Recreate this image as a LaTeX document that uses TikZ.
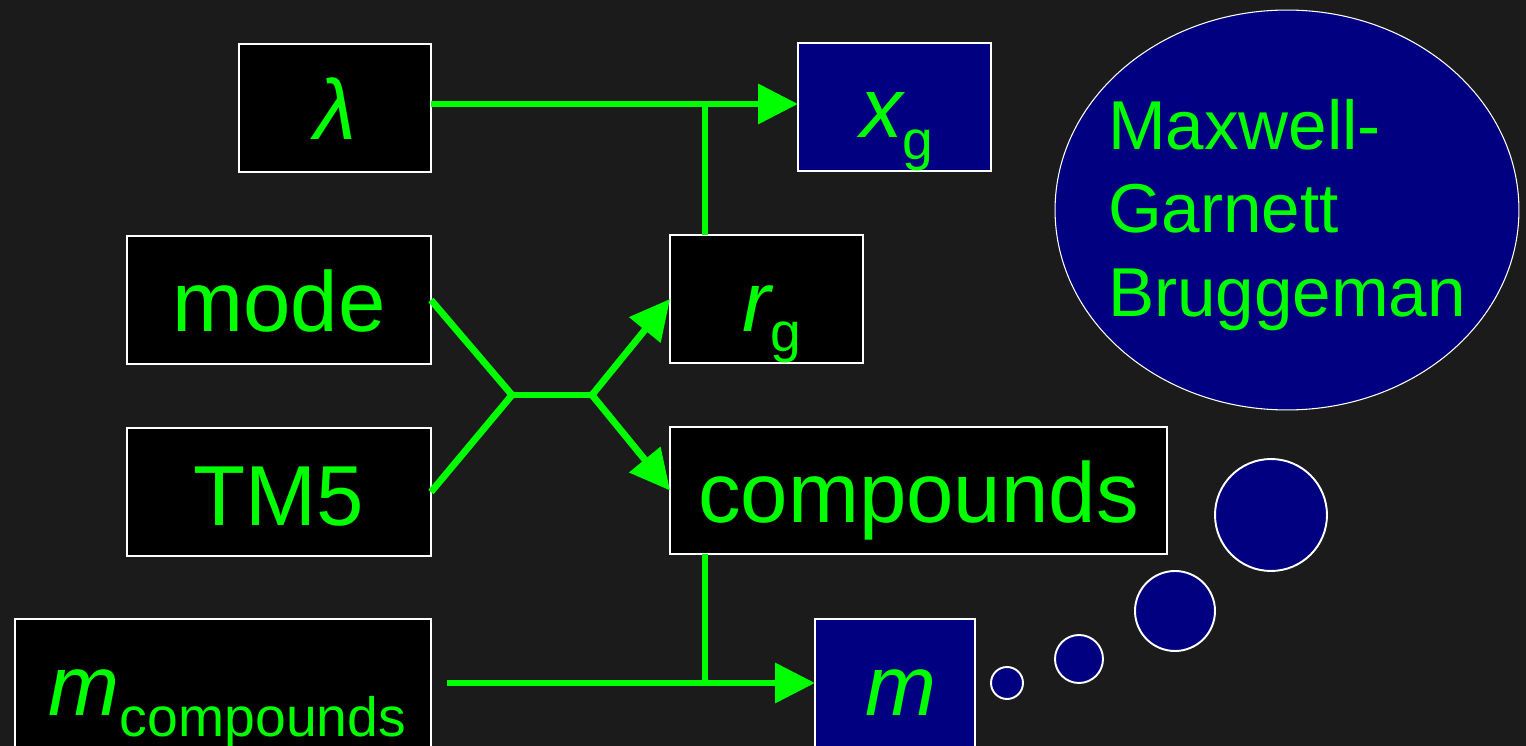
\documentclass[tikz,border=0pt]{standalone}
\usepackage{fontspec}
\setmainfont{Liberation Sans}
\usetikzlibrary{arrows.meta,shapes.geometric}
\definecolor{bgc}{HTML}{1B1B1B}
\definecolor{grn}{HTML}{00FF00}
\definecolor{nvy}{HTML}{000080}
\newcommand\bigf{\fontsize{48.5}{58}\selectfont}
\newcommand\subf{\fontsize{31.5}{38}\selectfont}
\newcommand\mgf{\fontsize{39.4}{47.6}\selectfont}
\tikzset{
  box/.style={rectangle,draw=white,line width=1.1pt,fill=black,inner sep=0pt,outer sep=0pt,minimum height=2.56cm},
  nbox/.style={box,fill=nvy},
  lbl/.style={text=grn,inner sep=0pt,outer sep=0pt,anchor=base,font=\bigf},
  conn/.style={draw=grn,line width=3.9pt},
  arr/.style={conn,-{Triangle[length=0.8cm,width=0.78cm]}},
  bubble/.style={circle,draw=white,line width=1.1pt,fill=nvy,inner sep=0pt}
}
\begin{document}
\begin{tikzpicture}[x=0.02cm,y=-0.02cm]
\fill[bgc] (0,0) rectangle (1526,746);
\useasboundingbox (0,0) rectangle (1526,746);
\clip (0,0) rectangle (1526,746);
% boxes
\node[box,minimum width=3.84cm] (lam) at (335,108) {};
\node[nbox,minimum width=3.86cm] (xg) at (894.5,107) {};
\node[box,minimum width=6.08cm] (mode) at (279,300) {};
\node[box,minimum width=3.86cm] (rg) at (766.5,299) {};
\node[box,minimum width=6.08cm] (tm) at (279,492) {};
\node[box,minimum width=9.94cm,minimum height=2.54cm] (comp) at (918.5,490.5) {};
\node[box,minimum width=8.32cm] (mc) at (223,683) {};
\node[nbox,minimum width=3.2cm] (m) at (895,683) {};
% ellipse and bubbles
\node[ellipse,draw=white,line width=0.6pt,fill=nvy,inner sep=0pt,minimum width=9.28cm,minimum height=8cm] (mg) at (1287,210) {};
\node[bubble,minimum size=2.24cm] (b1) at (1271,515) {};
\node[bubble,minimum size=1.6cm] (b2) at (1175,611) {};
\node[bubble,minimum size=0.96cm] (b3) at (1079,659) {};
\node[bubble,minimum size=0.64cm] (b4) at (1007,683) {};
% labels
\node[lbl] (tlam) at (335,140) {\itshape λ};
\node[lbl,anchor=base west] (txg) at (860,138) {\itshape x\upshape\raisebox{-12.5pt}{\subf g}};
\node[lbl] (tmode) at (279,332) {mode};
\node[lbl,anchor=base west] (trg) at (742,332) {\itshape r\upshape\raisebox{-11.3pt}{\subf g}};
\node[lbl] (ttm) at (279,526) {TM5};
\node[lbl] (tcomp) at (918.5,523) {compounds};
\node[lbl,anchor=base west] (tmc) at (49,715) {\itshape m\upshape\raisebox{-12.5pt}{\subf compounds}};
\node[lbl,anchor=base west] (tm2) at (865,715) {\itshape m};
\node[lbl,anchor=north west,align=left,font=\mgf] (tmg) at (1108,99) {Maxwell-\\Garnett\\Bruggeman};
% connectors
\coordinate (j1) at (705,104);
\coordinate (ja) at (512,395);
\coordinate (jb) at (592,395);
\coordinate (j3) at (705,683);
\draw[arr] (lam.east |- j1) -- (xg.west |- j1);
\draw[conn] (j1) -- (j1 |- rg.north);
\draw[conn] (mode.east) -- (ja);
\draw[conn] (tm.east) -- (ja);
\draw[conn] (ja) -- (jb);
\draw[arr] (jb) -- (rg.west);
\draw[arr] (jb) -- (comp.west);
\draw[conn] (comp.south -| j3) -- (j3);
\draw[arr] ([xshift=0.32cm]mc.east) -- (m.west);
\end{tikzpicture}
\end{document}
